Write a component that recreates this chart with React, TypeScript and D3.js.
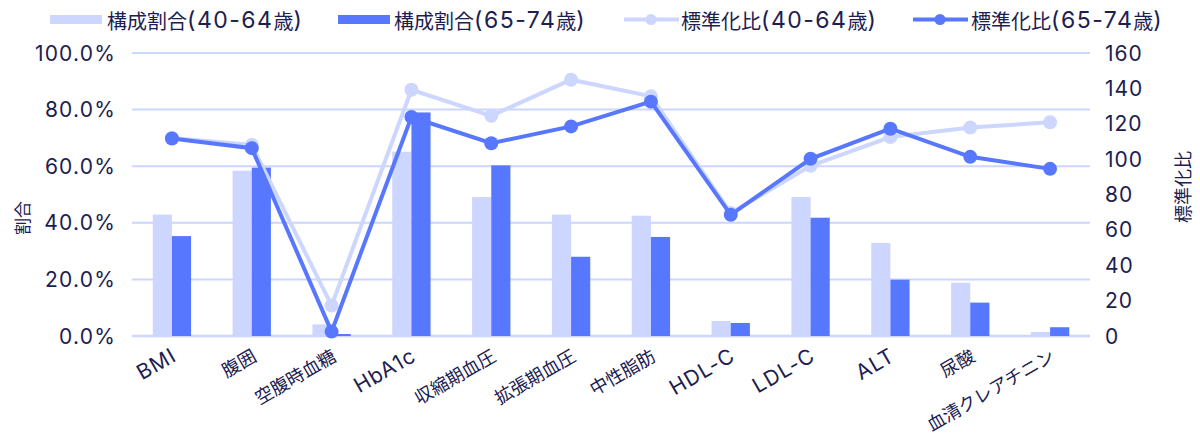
import React from 'react';
import * as d3 from 'd3';

const categories = ['BMI', '腹囲', '空腹時血糖', 'HbA1c', '収縮期血圧', '拡張期血圧', '中性脂肪', 'HDL-C', 'LDL-C', 'ALT', '尿酸', '血清クレアチニン'];
const ratio4064 = [42.9, 58.4, 4.1, 65.1, 49.1, 42.9, 42.5, 5.3, 49.1, 32.9, 18.8, 1.4];
const ratio6574 = [35.3, 59.5, 0.7, 79.0, 60.3, 28.0, 35.0, 4.6, 41.8, 19.9, 11.8, 3.1];
const smr4064 = [112, 108, 17.2, 139.2, 124.5, 144.9, 135.5, 69.5, 96.2, 112.5, 117.9, 120.8];
const smr6574 = [111.7, 106.2, 2.5, 123.8, 109, 118.5, 132.5, 68.5, 100.2, 117.2, 101.3, 94.5];
const leftTicks = [0, 20, 40, 60, 80, 100];
const rightTicks = [0, 20, 40, 60, 80, 100, 120, 140, 160];
const legendLabels = ['構成割合(40-64歳)', '構成割合(65-74歳)', '標準化比(40-64歳)', '標準化比(65-74歳)'];

const LIGHT = '#ccd6ff';
const DARK = '#5877ff';
const TEXT = '#1c2050';
const CJK = '"Noto Sans CJK JP", sans-serif';
const LATIN = 'Inter, "Noto Sans CJK JP", sans-serif';

function runs(s: string) {
  const out: { t: string; latin: boolean }[] = [];
  for (const ch of s) {
    const latin = /[0-9A-Za-z.%\-()]/.test(ch);
    const last = out[out.length - 1];
    if (last && last.latin === latin) last.t += ch;
    else out.push({ t: ch, latin });
  }
  return out;
}

function Mixed({ s, cjkSize, latinSize, spacing = 0 }: { s: string; cjkSize: number; latinSize: number; spacing?: number }) {
  return (
    <>
      {runs(s).map((r, i) =>
        r.latin ? (
          <tspan key={i} fontFamily={LATIN} fontSize={latinSize} letterSpacing={spacing}>{r.t}</tspan>
        ) : (
          <tspan key={i} fontFamily={CJK} fontSize={cjkSize}>{r.t}</tspan>
        )
      )}
    </>
  );
}

export default function App() {
  const W = 1200, H = 436;
  const left = 132, right = 1090, top = 53, bottom = 336;
  const x = d3.scaleBand<string>().domain(categories).range([left, right]).padding(0);
  const yL = d3.scaleLinear().domain([0, 100]).range([bottom, top]);
  const yR = d3.scaleLinear().domain([0, 160]).range([bottom, top]);
  const bw = x.bandwidth() * 0.24;
  const cx = (c: string) => (x(c) as number) + x.bandwidth() / 2;

  const line = (vals: number[]) =>
    d3.line<number>().x((_, i) => cx(categories[i])).y((v) => yR(v))(vals) as string;

  const legendItems = [
    { x: 50, textX: 107, kind: 'bar', color: LIGHT },
    { x: 338, textX: 394, kind: 'bar', color: DARK },
    { x: 624, textX: 681, kind: 'line', color: LIGHT },
    { x: 913, textX: 971, kind: 'line', color: DARK },
  ];

  return (
    <svg width={W} height={H} style={{ position: 'absolute', left: 0, top: 0, fontFamily: CJK }}>
      <rect width={W} height={H} fill="#fff" />
      {leftTicks.map((t) => (
        <line key={t} x1={left} x2={right} y1={yL(t)} y2={yL(t)} stroke={LIGHT} strokeWidth={t === 0 ? 2.5 : 2} />
      ))}
      {leftTicks.map((t) => (
        <text key={t} x={116} y={yL(t)} textAnchor="end" dominantBaseline="central" fontFamily={LATIN} fontSize={21} letterSpacing={1.2} fill={TEXT}>
          {t.toFixed(1) + '%'}
        </text>
      ))}
      {rightTicks.map((t) => (
        <text key={t} x={1105} y={yR(t)} textAnchor="start" dominantBaseline="central" fontFamily={LATIN} fontSize={21} letterSpacing={1} fill={TEXT}>
          {t}
        </text>
      ))}
      <text transform={`translate(21,218) rotate(-90)`} textAnchor="middle" dominantBaseline="central" fontSize={17} fill={TEXT}>割合</text>
      <text transform={`translate(1182,187) rotate(-90)`} textAnchor="middle" dominantBaseline="central" fontSize={18} fill={TEXT}>標準化比</text>
      {categories.map((c, i) => (
        <g key={c}>
          <rect x={cx(c) - bw} y={yL(ratio4064[i])} width={bw} height={bottom - yL(ratio4064[i])} fill={LIGHT} />
          <rect x={cx(c)} y={yL(ratio6574[i])} width={bw} height={bottom - yL(ratio6574[i])} fill={DARK} />
        </g>
      ))}
      <path d={line(smr4064)} fill="none" stroke={LIGHT} strokeWidth={4} />
      {smr4064.map((v, i) => (
        <circle key={i} cx={cx(categories[i])} cy={yR(v)} r={7} fill={LIGHT} />
      ))}
      <path d={line(smr6574)} fill="none" stroke={DARK} strokeWidth={4} />
      {smr6574.map((v, i) => (
        <circle key={i} cx={cx(categories[i])} cy={yR(v)} r={7} fill={DARK} />
      ))}
      {categories.map((c) => (
        <text key={c} transform={`translate(${cx(c) + 2},${353}) rotate(-30)`} textAnchor="end" dominantBaseline="central" fill={TEXT}>
          <Mixed s={c} cjkSize={18} latinSize={21} spacing={1} />
        </text>
      ))}
      {legendItems.map((it, i) => (
        <g key={i}>
          {it.kind === 'bar' ? (
            <rect x={it.x} y={15} width={52} height={9} fill={it.color} />
          ) : (
            <>
              <line x1={it.x} x2={it.x + 55} y1={19.5} y2={19.5} stroke={it.color} strokeWidth={4} />
              <circle cx={it.x + 27} cy={19.5} r={5.5} fill={it.color} />
            </>
          )}
          <text x={it.textX} y={20} dominantBaseline="central" fill={TEXT}>
            <Mixed s={legendLabels[i]} cjkSize={20} latinSize={23} spacing={1.5} />
          </text>
        </g>
      ))}
    </svg>
  );
}
